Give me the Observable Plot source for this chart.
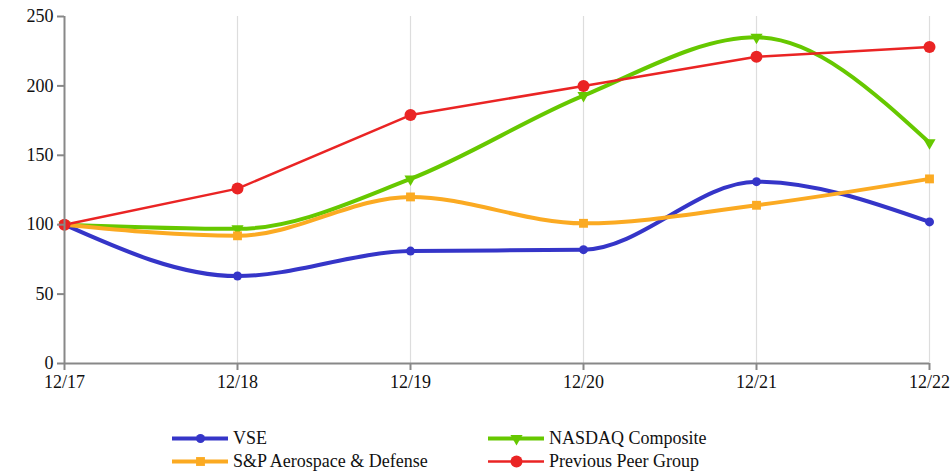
<!DOCTYPE html>
<html><head><meta charset="utf-8">
<script src="https://cdn.jsdelivr.net/npm/d3@7"></script>
<script src="https://cdn.jsdelivr.net/npm/@observablehq/plot@0.6"></script>
<style>
body{margin:0;background:#fff;font-family:"Liberation Serif","DejaVu Serif","Noto Serif",Tinos,FreeSerif,Times,serif;}
svg text{font-family:"Liberation Serif","DejaVu Serif","Noto Serif",Tinos,FreeSerif,Times,serif !important;}
#legend{display:grid;grid-template-columns:316px 300px;margin-left:172px;margin-top:17px;row-gap:1px;font-size:18px;color:#111;}
.item{display:flex;align-items:center;height:22px;}
.item svg{margin-right:5px;}
</style></head>
<body>
<div id="chart"></div>
<div id="legend"></div>
<script>
const years = ["12/17","12/18","12/19","12/20","12/21","12/22"];
const yTicks = [0,50,100,150,200,250];
const seriesNames = ["VSE","NASDAQ Composite","S&P Aerospace & Defense","Previous Peer Group"];
const vse = [100, 63, 81, 82, 131, 102];
const nasdaq = [100, 97, 133, 193, 235, 159];
const spad = [100, 92, 120, 101, 114, 133];
const peer = [100, 126, 179, 200, 221, 228];

const styles = {
  "VSE": {color:"#3535c8", width:4, symbol:"circle", r:4.5, rotate:0, curve:"monotone-x"},
  "NASDAQ Composite": {color:"#66c800", width:4, symbol:"triangle", r:4.5, rotate:180, curve:"monotone-x"},
  "S&P Aerospace & Defense": {color:"#fbaa22", width:4, symbol:"square", r:5, rotate:0, curve:"monotone-x"},
  "Previous Peer Group": {color:"#ea2424", width:2.5, symbol:"circle", r:6, rotate:0, curve:"linear"}
};
const valuesBy = {"VSE":vse,"NASDAQ Composite":nasdaq,"S&P Aerospace & Defense":spad,"Previous Peer Group":peer};

const marks = [
  Plot.ruleX(years.slice(1), {stroke:"#dddddd", strokeWidth:1.2, y1:0, y2:250}),
];
for (const name of seriesNames) {
  const st = styles[name];
  const data = years.map((yr,i)=>({year:yr, value:valuesBy[name][i]}));
  marks.push(Plot.line(data, {x:"year", y:"value", stroke:st.color, strokeWidth:st.width, curve:st.curve}));
  marks.push(Plot.dot(data, {x:"year", y:"value", fill:st.color, symbol:()=>st.symbol, r:st.r, rotate:st.rotate}));
}
marks.push(Plot.ruleY([0], {stroke:"#888", strokeWidth:2}));
marks.push(Plot.ruleX([years[0]], {stroke:"#888", strokeWidth:2, y1:0, y2:250}));
marks.push(Plot.axisY({ticks:yTicks, tickSize:7, tickPadding:4, stroke:"#888", strokeWidth:2, fontSize:18, fill:"#111", label:null}));
marks.push(Plot.axisX({tickSize:7, tickPadding:5, stroke:"#888", strokeWidth:2, fontSize:18, fill:"#111", label:null}));

const chart = Plot.plot({
  width:950, height:410,
  marginLeft:64, marginRight:21, marginTop:16, marginBottom:47,
  style:{fontSize:"18px", background:"#fff", overflow:"visible"},
  x:{type:"point", domain:years, padding:0},
  y:{domain:[0,250]},
  symbol:{type:"identity"},
  marks
});
document.getElementById("chart").appendChild(chart);

const legend = document.getElementById("legend");
for (const name of seriesNames) {
  const st = styles[name];
  const div = document.createElement("div");
  div.className = "item";
  const sw = Plot.plot({
    width:56, height:16, margin:0,
    x:{domain:[0,1], axis:null}, y:{domain:[0,1], axis:null},
    symbol:{type:"identity"},
    marks:[
      Plot.line([{a:0,b:0.5},{a:1,b:0.5}], {x:"a", y:"b", stroke:st.color, strokeWidth:st.width}),
      Plot.dot([{a:0.5,b:0.5}], {x:"a", y:"b", fill:st.color, symbol:()=>st.symbol, r:st.r, rotate:st.rotate})
    ]
  });
  div.appendChild(sw);
  const t = document.createElement("span");
  t.textContent = name;
  div.appendChild(t);
  legend.appendChild(div);
}
</script>
</body></html>
